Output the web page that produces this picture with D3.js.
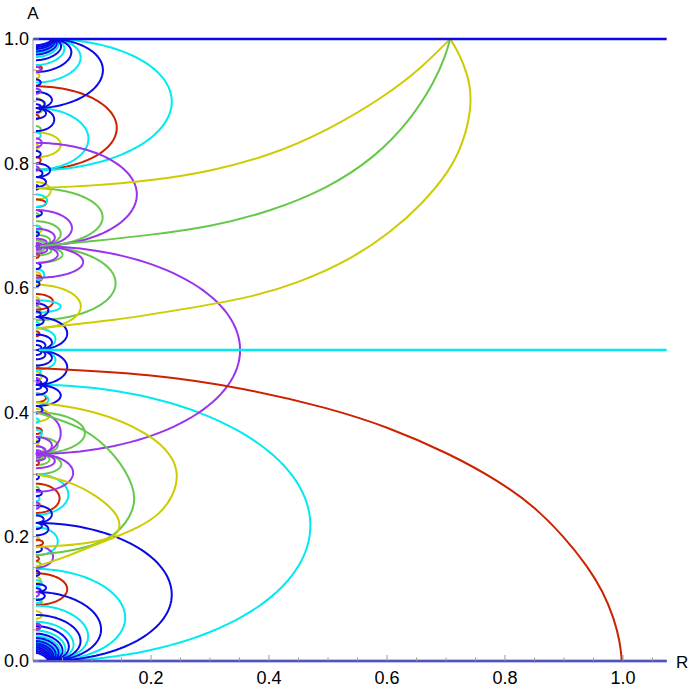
<!DOCTYPE html>
<html><head><meta charset="utf-8">
<script src="https://cdn.jsdelivr.net/npm/d3@7"></script>
<style>html,body{margin:0;padding:0;background:#fff;}svg{display:block;}</style>
</head><body>
<svg id="chart" width="692" height="693"></svg>
<script>
// ---------- DATA ----------
const xMajorTicks = [0.2, 0.4, 0.6, 0.8, 1.0];
const xMinorTicks = [0.05,0.1,0.15,0.25,0.3,0.35,0.45,0.5,0.55,0.65,0.7,0.75,0.85,0.9,0.95,1.05];
const yMajorTicks = [0.0, 0.2, 0.4, 0.6, 0.8, 1.0];
const yMinorTicks = [0.05,0.1,0.15,0.25,0.3,0.35,0.45,0.5,0.55,0.65,0.7,0.75,0.85,0.9,0.95];

// horizontal lines: level A, colour key, start R
const hLines = [[0.5, "cyan", 0.01], [0.0, "blue", 0.0], [1.0, "blue", 0.0]];

// arcs leaving the R=0 axis at A=a0 and returning at A=a1, widest at R=r
const blueArcs = [
  [0.222,0,0.235],[0.111,0,0.115],[0.074,0,0.080],[0.056,0,0.060],[0.044,0,0.049],[0.037,0,0.042],
  [0.032,0,0.037],[0.028,0,0.033],[0.025,0,0.030],[0.022,0,0.027],[0.019,0,0.025],[0.016,0,0.023],[0.013,0,0.021],
  [1,0.889,0.118],[1,0.947,0.064],[1,0.966,0.046],[1,0.975,0.038],[1,0.980,0.034],[1,0.984,0.031],[1,0.987,0.029],[1,0.990,0.027],
  [0.553,0.5,0.058],[0.5,0.444,0.058],[0.525,0.5,0.032],[0.5,0.475,0.032],[0.515,0.5,0.021],[0.5,0.485,0.021],[0.508,0.5,0.014],[0.5,0.492,0.014],
  [0.444,0.41,0.047],[0.444,0.428,0.024],[0.46,0.444,0.024],[0.451,0.444,0.014],[0.444,0.437,0.014],
  [0.889,0.852,0.036],[0.915,0.889,0.032],[0.889,0.872,0.022],[0.903,0.889,0.02],[0.895,0.889,0.013],[0.889,0.882,0.013],
  [0.80,0.778,0.029],[0.778,0.762,0.022],[0.79,0.778,0.016],
  [0.575,0.553,0.026],[0.553,0.54,0.018],[0.562,0.553,0.013],
  [0.25,0.222,0.032],[0.222,0.202,0.026],[0.234,0.222,0.018],[0.222,0.212,0.015],
  [0.124,0.111,0.022],[0.111,0.098,0.02],[0.117,0.111,0.013],
  [0.41,0.398,0.016],[0.275,0.265,0.015],[0.185,0.175,0.015],[0.64,0.63,0.013],[0.725,0.715,0.015],[0.82,0.81,0.013],
  [0.935,0.925,0.013],[0.36,0.352,0.011],[0.61,0.602,0.011],[0.145,0.137,0.011],[0.3,0.292,0.01],[0.69,0.683,0.01],[0.765,0.758,0.01]
];
const cyanArcs = [
  [0.444,0,0.470],[0.148,0,0.156],[0.089,0,0.093],[0.063,0,0.068],[0.049,0,0.054],[0.040,0,0.045],
  [0.034,0,0.039],[0.030,0,0.035],[0.026,0,0.031],[0.023,0,0.028],[0.020,0,0.026],
  [1,0.789,0.235],[1,0.930,0.080],[1,0.958,0.052],[1,0.971,0.041],[1,0.978,0.036],[1,0.982,0.032],[1,0.986,0.030],[1,0.989,0.028],
  [0.889,0.79,0.094],[0.58,0.56,0.047],[0.5,0.468,0.038],[0.535,0.5,0.038],[0.30,0.235,0.060],[0.215,0.17,0.042],
  [0.43,0.41,0.026],[0.75,0.73,0.024],[0.63,0.612,0.019],[0.372,0.36,0.015],[0.13,0.12,0.015],[0.10,0.093,0.013],
  [0.85,0.84,0.013],[0.70,0.692,0.012],[0.47,0.46,0.013],[0.265,0.257,0.011],[0.545,0.538,0.01],[0.92,0.913,0.01],[0.39,0.383,0.01]
];
const redArcs = [
  [0.924,0.79,0.142],[0.141,0.09,0.058],[0.285,0.238,0.045],[0.59,0.565,0.034],[0.742,0.73,0.022],[0.43,0.416,0.022],
  [0.958,0.948,0.015],[0.195,0.185,0.017],[0.62,0.61,0.015],[0.375,0.365,0.015],[0.06,0.052,0.013],[0.81,0.8,0.013],
  [0.53,0.522,0.011],[0.878,0.871,0.01],[0.655,0.648,0.01],[0.322,0.315,0.01],[0.168,0.161,0.01]
];
const yellowArcs = [
  [0.85,0.81,0.047],[0.605,0.535,0.081],[0.77,0.742,0.03],[0.405,0.385,0.028],[0.905,0.88,0.019],[0.70,0.688,0.015],
  [0.465,0.452,0.015],[0.08,0.068,0.015],[0.255,0.245,0.013],[0.135,0.125,0.013],[0.945,0.937,0.011],[0.625,0.615,0.013],
  [0.355,0.348,0.01],[0.2,0.193,0.01],[0.83,0.823,0.01],[0.585,0.578,0.01]
];
const greenArcs = [
  [0.76,0.667,0.118],[0.707,0.667,0.047],[0.685,0.667,0.029],[0.676,0.667,0.019],[0.671,0.667,0.013],
  [0.667,0.548,0.140],[0.667,0.64,0.05],[0.667,0.652,0.031],[0.667,0.658,0.019],[0.667,0.662,0.013],
  [0.40,0.333,0.088],[0.36,0.333,0.042],[0.333,0.30,0.048],[0.333,0.315,0.028],[0.346,0.333,0.018],[0.333,0.324,0.017],
  [0.10,0.09,0.015],[0.16,0.15,0.013],[0.57,0.56,0.013],[0.86,0.85,0.013],[0.475,0.468,0.01],[0.72,0.713,0.01],[0.28,0.273,0.01]
];
const purpleArcs = [
  [0.667,0.333,0.351],[0.833,0.667,0.176],[0.725,0.667,0.066],[0.695,0.667,0.037],[0.679,0.667,0.023],[0.672,0.667,0.015],[0.669,0.667,0.011],
  [0.667,0.616,0.085],[0.667,0.64,0.042],[0.667,0.655,0.024],[0.667,0.661,0.015],[0.667,0.664,0.011],
  [0.333,0.272,0.068],[0.40,0.333,0.047],[0.333,0.31,0.037],[0.36,0.333,0.032],[0.345,0.333,0.021],[0.333,0.322,0.021],
  [0.339,0.333,0.014],[0.333,0.327,0.014],[0.336,0.333,0.011],[0.333,0.33,0.011],
  [0.185,0.15,0.034],[0.84,0.826,0.015],[0.955,0.947,0.013],[0.92,0.912,0.013],[0.06,0.05,0.013],[0.455,0.447,0.011],
  [0.58,0.572,0.011],[0.255,0.245,0.011],[0.111,0.104,0.01],[0.795,0.788,0.01]
];

// long curves given as (R, A) samples
const redQuarter  = [[0.005,0.471],[0.2,0.462],[0.368,0.437],[0.5,0.407],[0.6,0.377],[0.707,0.333],[0.792,0.288],[0.85,0.248],[0.9,0.2],[0.94,0.152],[0.966,0.112],[0.985,0.068],[0.995,0.03],[0.998,0.0]];
const yellowUpper = [[0.006,0.76],[0.1,0.764],[0.2,0.772],[0.3,0.787],[0.4,0.812],[0.5,0.853],[0.6,0.91],[0.66,0.955],[0.707,1.0]];
const greenUpper  = [[0.012,0.667],[0.1,0.675],[0.2,0.685],[0.3,0.698],[0.4,0.722],[0.5,0.76],[0.58,0.81],[0.64,0.87],[0.68,0.93],[0.7,0.975],[0.707,1.0]];
const yellowLower = [[0.006,0.535],[0.142,0.548],[0.25,0.565],[0.368,0.584],[0.453,0.609],[0.537,0.645],[0.605,0.688],[0.661,0.736],[0.707,0.789],[0.729,0.833],[0.743,0.886],[0.741,0.929],[0.729,0.961],[0.719,0.982],[0.707,1.0]];
const yellowCross1 = [[0.005,0.416],[0.105,0.404],[0.2,0.365],[0.236,0.33],[0.247,0.3],[0.238,0.265],[0.215,0.236],[0.18,0.215],[0.142,0.2],[0.1,0.185],[0.05,0.165],[0.005,0.152]];
const greenCross   = [[0.005,0.40],[0.088,0.376],[0.142,0.33],[0.172,0.28],[0.174,0.245],[0.142,0.2],[0.08,0.178],[0.005,0.17]];
const yellowCross2 = [[0.006,0.30],[0.06,0.29],[0.11,0.265],[0.145,0.235],[0.148,0.215],[0.141,0.2],[0.1,0.19],[0.05,0.185],[0.005,0.183]];

const colors = {blue:"#0a0ae6", cyan:"#00eaf0", red:"#cc2200", yellow:"#cccc00", green:"#66c84a", purple:"#9933ee"};

// ---------- DRAW ----------
const svg = d3.select("#chart");
const x = d3.scaleLinear().domain([0, 1.074]).range([33, 666.7]);
const y = d3.scaleLinear().domain([0, 1]).range([661, 39]);

svg.append("defs").append("clipPath").attr("id","clip")
  .append("rect").attr("x",33).attr("y",37).attr("width",634).attr("height",626);

const plot = svg.append("g").attr("clip-path","url(#clip)");
const arcLine = d3.line().x(d => x(d[0])).y(d => y(d[1]));
const smoothLine = d3.line().x(d => x(d[0])).y(d => y(d[1])).curve(d3.curveBasis);

function endR(a){ return a === 0 ? 0.022 : (a === 1 ? 0.025 : 0.005); }
function arcPoints(a0, a1, r){
  const e0 = endR(a0), e1 = endR(a1), bulge = Math.max(r - (e0 + e1) / 2, 0.002);
  return d3.range(0, 73).map(i => {
    const t = Math.PI * i / 72, c = Math.cos(t);
    return [e0*(1+c)/2 + e1*(1-c)/2 + bulge*Math.sin(t), a0*(1+c)/2 + a1*(1-c)/2];
  });
}
function drawArcs(list, col){
  plot.append("g").selectAll("path").data(list).join("path")
    .attr("d", d => arcLine(arcPoints(d[0], d[1], d[2])))
    .attr("fill","none").attr("stroke", colors[col]).attr("stroke-width", 2);
}
function drawCurve(pts, col){
  plot.append("path").attr("d", smoothLine(pts)).attr("fill","none")
    .attr("stroke", colors[col]).attr("stroke-width", 2);
}

// axes (grey)
const axisCol = "#9a9a9a";
const ax = svg.append("g");
ax.append("line").attr("x1",x(0)).attr("x2",x(1.074)).attr("y1",y(0)).attr("y2",y(0)).attr("stroke",axisCol);
ax.append("line").attr("x1",x(0)).attr("x2",x(0)).attr("y1",y(0)).attr("y2",y(1)).attr("stroke",axisCol);
ax.selectAll(".xt").data(xMajorTicks.concat(xMinorTicks)).join("line")
  .attr("x1",d=>x(d)).attr("x2",d=>x(d)).attr("y1",y(0))
  .attr("y2",d=> y(0) - (xMajorTicks.includes(d) ? 6 : 3.5)).attr("stroke",axisCol);
ax.selectAll(".yt").data(yMajorTicks.concat(yMinorTicks)).join("line")
  .attr("y1",d=>y(d)).attr("y2",d=>y(d)).attr("x1",x(0))
  .attr("x2",d=> x(0) + (yMajorTicks.includes(d) ? 6 : 3.5)).attr("stroke",axisCol);

drawArcs(greenArcs, "green");
drawArcs(yellowArcs, "yellow");
drawArcs(redArcs, "red");
drawArcs(cyanArcs, "cyan");
drawArcs(blueArcs, "blue");
drawArcs(purpleArcs, "purple");
drawCurve(greenCross, "green");
drawCurve(yellowCross1, "yellow");
drawCurve(yellowCross2, "yellow");
drawCurve(yellowUpper, "yellow");
drawCurve(greenUpper, "green");
drawCurve(yellowLower, "yellow");
drawCurve(redQuarter, "red");

plot.selectAll(".hl").data(hLines).join("line")
  .attr("x1",d=>x(d[2])).attr("x2",x(1.074)).attr("y1",d=>y(d[0])).attr("y2",d=>y(d[0]))
  .attr("stroke",d=>colors[d[1]]).attr("stroke-width",2.4);

// labels
const font = "'Liberation Sans', Arial, sans-serif";
svg.selectAll(".xl").data(xMajorTicks).join("text")
  .attr("x",d=>x(d)).attr("y",684).attr("text-anchor","middle")
  .attr("font-family",font).attr("font-size",18).text(d=>d.toFixed(1));
svg.selectAll(".yl").data(yMajorTicks).join("text")
  .attr("x",29).attr("y",d=>y(d)).attr("dy","0.35em").attr("text-anchor","end")
  .attr("font-family",font).attr("font-size",18).text(d=>d.toFixed(1));
svg.append("text").attr("x",33).attr("y",19).attr("text-anchor","middle")
  .attr("font-family",font).attr("font-size",17).text("A");
svg.append("text").attr("x",676).attr("y",668)
  .attr("font-family",font).attr("font-size",17).text("R");
</script>
</body></html>
